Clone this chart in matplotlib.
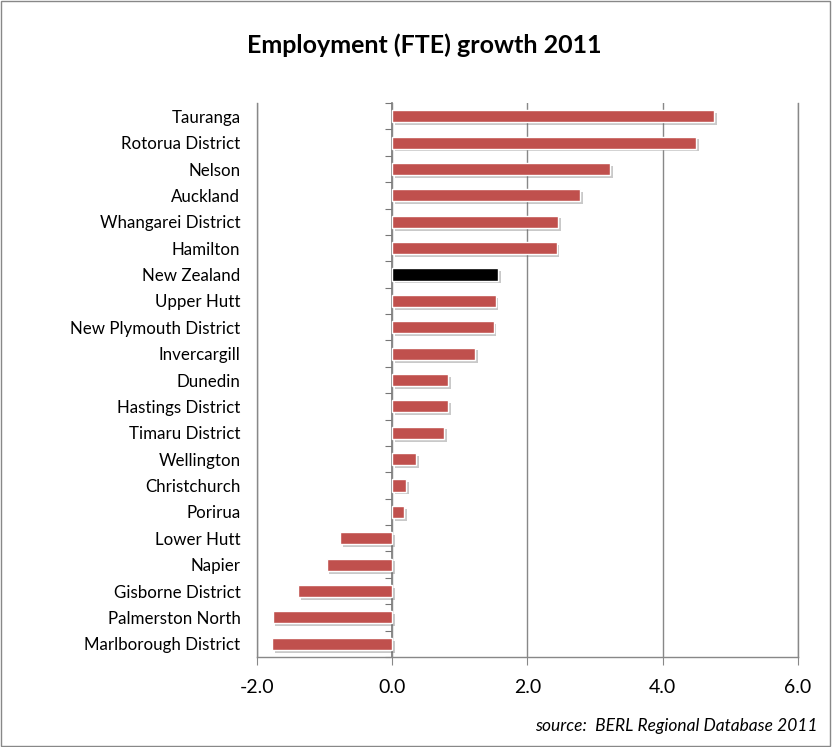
import matplotlib
matplotlib.use("Agg")
import matplotlib.pyplot as plt
import matplotlib.patheffects as pe
from matplotlib.patches import Rectangle
import numpy as np

plt.rcParams['font.family'] = ['Lato', 'DejaVu Sans']

categories = ["Tauranga", "Rotorua District", "Nelson", "Auckland", "Whangarei District",
              "Hamilton", "New Zealand", "Upper Hutt", "New Plymouth District", "Invercargill",
              "Dunedin", "Hastings District", "Timaru District", "Wellington", "Christchurch",
              "Porirua", "Lower Hutt", "Napier", "Gisborne District", "Palmerston North",
              "Marlborough District"]
values = [4.76, 4.50, 3.22, 2.78, 2.45, 2.43, 1.56, 1.53, 1.50, 1.23,
          0.83, 0.83, 0.77, 0.35, 0.21, 0.18, -0.77, -0.97, -1.39, -1.77, -1.78]
xticks = [-2.0, 0.0, 2.0, 4.0, 6.0]

red = "#C0504D"
colors = ["black" if c == "New Zealand" else red for c in categories]

fig = plt.figure(figsize=(8.32, 7.47), dpi=100)
ax = fig.add_axes([0.309, 0.1205, 0.650, 0.7415])

y = np.arange(len(categories))
bars = ax.barh(y, values, height=0.46, color=colors, edgecolor="white", linewidth=1.0, zorder=3)
for b in bars:
    b.set_path_effects([pe.SimplePatchShadow(offset=(2, -2), shadow_rgbFace="#666666", alpha=0.35),
                        pe.Normal()])

ax.set_xlim(-2, 6)
ax.set_ylim(len(categories) - 0.5, -0.5)
ax.set_xticks(xticks)
ax.set_xticklabels([f"{t:.1f}" for t in xticks], fontsize=14)
ax.set_yticks(y)
ax.set_yticklabels(categories, fontsize=12.2)
ax.tick_params(axis='y', length=0, pad=12)
ax.tick_params(axis='x', length=6, color="#888888", direction="out", pad=10)

ax.grid(axis='x', color="#888888", linewidth=1.0, zorder=0)
ax.spines["top"].set_visible(False)
for s in ["left", "right", "bottom"]:
    ax.spines[s].set_color("#888888")
    ax.spines[s].set_linewidth(1.0)

# zero axis with category-boundary ticks
sec = ax.secondary_yaxis(0.25)
sec.set_yticks(np.arange(len(categories) + 1) - 0.5)
sec.set_yticklabels([])
sec.tick_params(length=5, color="#777777", direction="out")
sec.spines['left'].set_color("#777777")
sec.spines['left'].set_linewidth(1.2)

fig.text(0.51, 0.94, "Employment (FTE) growth 2011", ha="center", va="center",
         fontsize=18, fontweight="bold")
fig.text(0.983, 0.028, "source:  BERL Regional Database 2011", ha="right", va="center",
         fontsize=12.5, style="italic")

fig.patches.append(Rectangle((0.001, 0.001), 0.997, 0.997, transform=fig.transFigure,
                             fill=False, edgecolor="#888888", linewidth=1.0))

fig.savefig("out.png", dpi=100)
